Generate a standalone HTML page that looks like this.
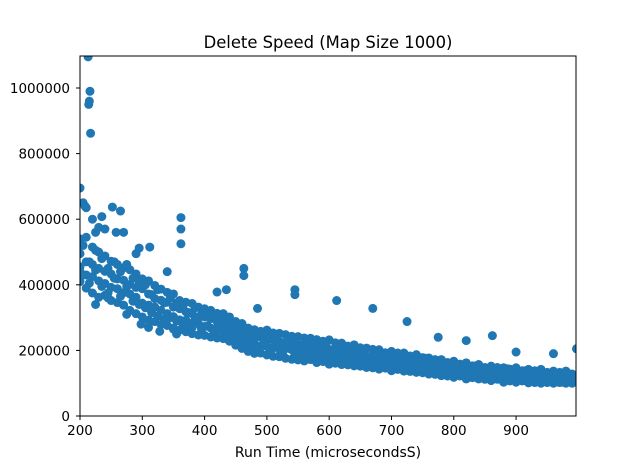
<!DOCTYPE html>
<html><head><meta charset="utf-8"><style>
html,body{margin:0;padding:0;background:#fff;}
svg{display:block;font-family:"DejaVu Sans","Liberation Sans",sans-serif;}
</style></head><body>
<svg id="chart" width="640" height="468" viewBox="0 0 640 468" xmlns="http://www.w3.org/2000/svg">
<rect width="640" height="468" fill="#fff"/>
<text x="328" y="48" font-size="16.4" text-anchor="middle" fill="#000">Delete Speed (Map Size 1000)</text>
<g id="points"></g>
<g id="axes"></g>
<text x="328" y="457" font-size="14" text-anchor="middle" fill="#000">Run Time (microsecondsS)</text>
</svg>
<script>
const bandX = [200,210,220,230,240,250,260,270,280,290,300,310,320,330,340,350,360,370,380,390,400,410,420,430,440,450,460,470,480,490,500,510,520,530,540,550,560,570,580,590,600,610,620,630,640,650,660,670,680,690,700,710,720,730,740,750,760,770,780,790,800,810,820,830,840,850,860,870,880,890,900,910,920,930,940,950,960,970,980,990];
const bandY = [
[410,455,495,540],[390,430,470,545],[375,425,462,515],[362,412,450,500],[368,404,441,488],
[352,392,433,472],[346,388,418,462],[338,376,414,452],[322,372,401,446],[312,362,392,433],
[302,344,388,418],[292,338,372,412],[288,332,358,398],[279,322,353,387],[276,312,347,377],
[268,303,332,372],[262,293,327,352],[257,292,318,347],[251,283,312,343],[247,282,302,332],
[246,273,302,327],[241,268,297,322],[238,266,288,313],[236,258,283,312],[228,251,272,302],
[216,243,267,288],[206,237,253,282],[197,223,247,268],[191,222,238,263],[192,213,241,258],
[186,212,233,262],[182,208,232,253],[181,203,228,252],[176,207,223,248],[173,202,227,243],
[171,198,218,242],[168,197,222,238],[172,193,213,237],[163,192,217,233],[166,188,208,228],
[158,187,203,232],[161,183,207,223],[157,182,198,222],[156,178,202,213],[153,177,193,217],
[152,168,192,208],[148,172,183,207],[147,163,187,203],[143,167,178,202],[146,158,182,193],
[138,162,173,197],[142,153,177,192],[137,157,168,192],[136,153,172,183],[133,152,163,187],
[132,148,167,178],[128,147,158,177],[127,138,157,172],[123,142,153,172],[122,133,152,163],
[118,137,148,167],[122,133,147,158],[113,132,143,162],[117,128,142,153],[113,127,138,157],
[112,123,142,148],[108,127,133,152],[112,118,137,148],[103,122,128,147],[107,118,132,143],
[103,117,128,147],[107,113,132,138],[101,117,123,142],[102,113,127,138],[100,112,123,142],
[102,108,127,133],[100,112,118,137],[102,108,122,133],[100,112,118,137],[100,108,122,128]];
const band2X = [205,215,225,235,245,255,265,275,285,295,305,315,325,335,345,355,365,375,385,395,405,415,425,435,445,455,465,475,485,495,505,515,525,535,545,555,565,575,585,595,605,615,625,635,645,655,665,675,685,695,705,715,725,735,745,755,765,775,785,795,805,815,825,835,845,855,865,875,885,895,905,915,925,935,945,955,965,975,985,995];
const band2Y = [
[430,520],[470,405],[505,445],[395,480],[450,375],[420,470],[365,440],[395,462],[350,420],[340,410],
[330,400],[370,315],[305,385],[345,295],[360,300],[290,345],[335,280],[315,275],[295,330],[265,310],
[275,318],[258,305],[295,262],[248,290],[282,240],[230,270],[258,222],[240,210],[200,250],[245,225],
[195,238],[240,218],[192,222],[230,206],[188,225],[210,185],[228,190],[182,212],[200,178],[215,175],
[196,170],[175,210],[185,166],[205,172],[165,188],[195,160],[178,158],[190,162],[155,183],[176,150],
[158,185],[150,172],[180,148],[146,168],[162,142],[176,140],[150,168],[138,160],[162,134],[145,157],
[131,155],[148,128],[140,126],[153,124],[129,146],[142,120],[118,138],[135,116],[144,118],[112,130],
[125,110],[138,108],[114,130],[105,128],[132,106],[110,126],[104,130],[118,103],[128,104],[106,124]];
const outlierX = [200,205,208,210,213,214,215,216,217,220,225,230,235,240,252,258,265,270,290,295,312,340,362,362,362,420,435,463,463,485,545,545,612,670,725,775,820,862,900,960,997,200,200,328,298,355,245,225,275,310,350,380];
const outlierY = [695,650,640,635,1095,950,960,990,862,600,560,575,608,570,637,560,625,560,495,512,515,440,605,570,525,378,385,450,428,328,385,370,352,328,288,240,230,245,195,190,205,440,520,258,280,250,360,340,310,270,265,270];
const xTicks = [200,300,400,500,600,700,800,900];
const yTicks = [0,200000,400000,600000,800000,1000000];

const L=80,R=576,T=56,B=416,XMIN=200,XMAX=996.2,YMAX=1097600;
const sx=v=>L+(v-XMIN)/(XMAX-XMIN)*(R-L);
const sy=v=>B-v/YMAX*(B-T);
const NS="http://www.w3.org/2000/svg";
const pg=document.getElementById('points');
function dot(x,y){
  const c=document.createElementNS(NS,'circle');
  c.setAttribute('cx',sx(x));c.setAttribute('cy',sy(y*1000));c.setAttribute('r',4.5);
  c.setAttribute('fill','#1f77b4');
  
  
  pg.appendChild(c);
}
bandX.forEach((x,i)=>bandY[i].forEach(y=>dot(x,y)));
band2X.forEach((x,i)=>band2Y[i].forEach(y=>dot(x,y)));
outlierX.forEach((x,i)=>dot(x,outlierY[i]));
const clip=document.createElementNS(NS,'clipPath');clip.setAttribute('id','cp');
const cr=document.createElementNS(NS,'rect');cr.setAttribute('x',L);cr.setAttribute('y',T);cr.setAttribute('width',R-L);cr.setAttribute('height',B-T);
clip.appendChild(cr);document.getElementById('chart').appendChild(clip);
pg.setAttribute('clip-path','url(#cp)');
const ax=document.getElementById('axes');
const fr=document.createElementNS(NS,'rect');
fr.setAttribute('x',L);fr.setAttribute('y',T);fr.setAttribute('width',R-L);fr.setAttribute('height',B-T);
fr.setAttribute('fill','none');fr.setAttribute('stroke','#000');fr.setAttribute('stroke-width','1');


ax.appendChild(fr);
xTicks.forEach(t=>{
  const l=document.createElementNS(NS,'line');
  l.setAttribute('x1',sx(t));l.setAttribute('x2',sx(t));l.setAttribute('y1',B);l.setAttribute('y2',B+4);l.setAttribute('stroke','#000');
  
  
  ax.appendChild(l);
  const tx=document.createElementNS(NS,'text');
  tx.setAttribute('x',sx(t));tx.setAttribute('y',B+19);tx.setAttribute('font-size','13.5');tx.setAttribute('text-anchor','middle');
  tx.textContent=t;
  
  
  ax.appendChild(tx);
});
yTicks.forEach(t=>{
  const l=document.createElementNS(NS,'line');
  l.setAttribute('x1',L-4);l.setAttribute('x2',L);l.setAttribute('y1',sy(t));l.setAttribute('y2',sy(t));l.setAttribute('stroke','#000');
  
  
  ax.appendChild(l);
  const tx=document.createElementNS(NS,'text');
  tx.setAttribute('x',L-10);tx.setAttribute('y',sy(t)+5);tx.setAttribute('font-size','13.5');tx.setAttribute('text-anchor','end');
  tx.textContent=t;
  
  
  ax.appendChild(tx);
});
</script>
</body></html>
